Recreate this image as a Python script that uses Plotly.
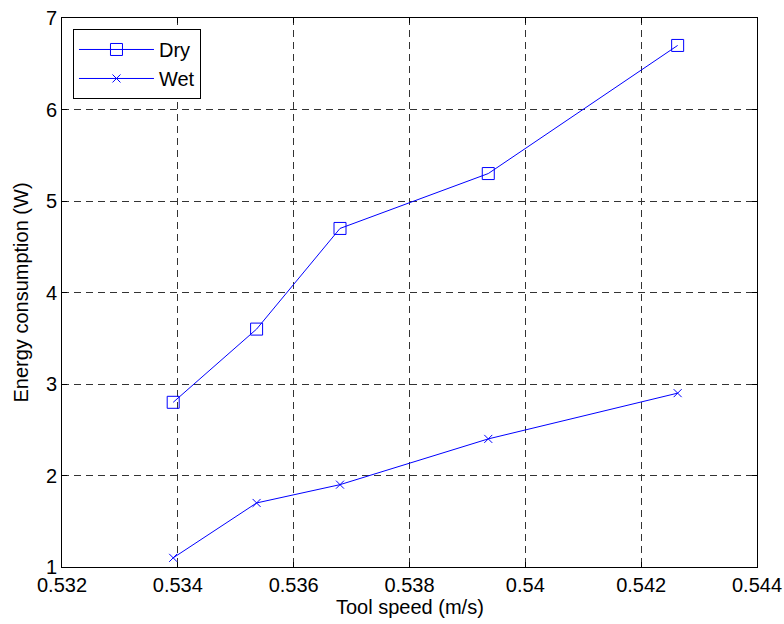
import plotly.graph_objects as go

tool_speed = [0.53392, 0.53536, 0.53680, 0.53936, 0.54263]
dry = [2.8, 3.6, 4.7, 5.3, 6.7]
wet = [1.1, 1.7, 1.9, 2.4, 2.9]

x_ticks = [0.532, 0.534, 0.536, 0.538, 0.540, 0.542, 0.544]
x_ticktext = ["0.532", "0.534", "0.536", "0.538", "0.54", "0.542", "0.544"]
y_ticks = [1, 2, 3, 4, 5, 6, 7]

FONT = "Liberation Sans, Arial, Helvetica, sans-serif"
BLUE = "#0000FF"

fig = go.Figure()
fig.add_trace(go.Scatter(
    x=tool_speed, y=dry, mode="lines+markers", name="Dry",
    line=dict(color=BLUE, width=1),
    marker=dict(symbol="square-open", size=12, color=BLUE, line=dict(width=1, color=BLUE)),
))
fig.add_trace(go.Scatter(
    x=tool_speed, y=wet, mode="lines+markers", name="Wet",
    line=dict(color=BLUE, width=1),
    marker=dict(symbol="x-thin-open", size=8, color=BLUE, line=dict(width=1, color=BLUE)),
))

axis_common = dict(
    showline=True, linecolor="black", linewidth=1, mirror="ticks",
    ticks="inside", ticklen=5, tickcolor="black", tickwidth=1,
    showgrid=True, gridcolor="#333333", gridwidth=1, griddash="7px,5px",
    zeroline=False, automargin=False, ticklabeloverflow="allow",
    tickfont=dict(family=FONT, size=20, color="black"),
)

fig.update_xaxes(range=[0.532, 0.544], tickvals=x_ticks, ticktext=x_ticktext, **axis_common)
fig.update_yaxes(range=[1, 7], tickvals=y_ticks, **axis_common)

fig.add_annotation(text="Tool speed (m/s)", xref="paper", yref="paper", x=0.5, y=-0.0735,
                   xanchor="center", yanchor="middle", showarrow=False,
                   font=dict(family=FONT, size=20, color="black"))
fig.add_annotation(text="Energy consumption (W)", xref="paper", yref="paper", x=-0.0604, y=0.5,
                   xanchor="center", yanchor="middle", showarrow=False, textangle=-90,
                   font=dict(family=FONT, size=20, color="black"))

fig.update_layout(
    width=784, height=624,
    margin=dict(l=62, r=27, t=18, b=57),
    paper_bgcolor="white", plot_bgcolor="white",
    font=dict(family=FONT, size=20, color="black"),
    showlegend=True,
    legend=dict(x=0.0158, y=0.980, xanchor="left", yanchor="top",
                bgcolor="white", bordercolor="black", borderwidth=1,
                itemwidth=75, font=dict(family=FONT, size=20, color="black")),
)

# remove the browser's default 8px body margin so the figure fills the window
fig.write_html("out.html", config={"displayModeBar": False},
               post_script="document.body.style.margin='0';document.body.style.overflow='hidden';")
